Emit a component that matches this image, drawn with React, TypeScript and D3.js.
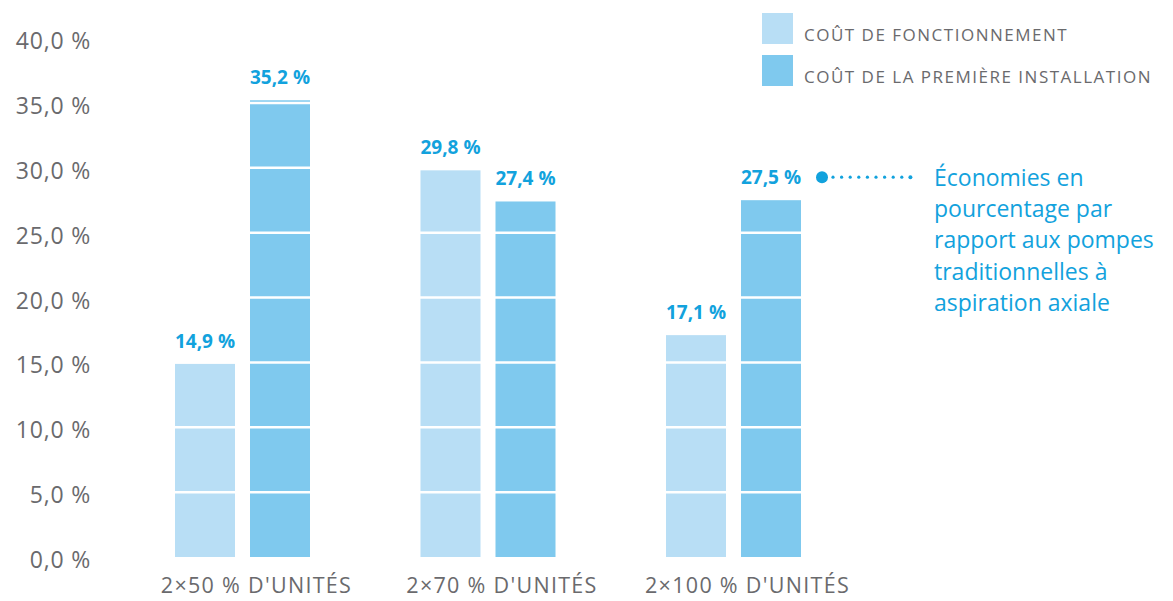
import React from "react";
import * as d3 from "d3";

const categories = ["2×50 % D'UNITÉS", "2×70 % D'UNITÉS", "2×100 % D'UNITÉS"];
const seriesNames = ["COÛT DE FONCTIONNEMENT", "COÛT DE LA PREMIÈRE INSTALLATION"];
const fonctionnement = [14.9, 29.8, 17.1];
const installation = [35.2, 27.4, 27.5];
const yTicks = [0, 5, 10, 15, 20, 25, 30, 35, 40];
const annotationLines = [
  "Économies en",
  "pourcentage par",
  "rapport aux pompes",
  "traditionnelles à",
  "aspiration axiale",
];

const W = 1173;
const H = 601;
const colors = ["#b8def5", "#7fc9ee"];
const labelColor = "#12a2dd";
const gray = "#6a6a6d";
const FONT = "'Open Sans', sans-serif";

const fmt = (v: number) => v.toFixed(1).replace(".", ",") + " %";

export default function App() {
  const y = d3.scaleLinear().domain([0, 40]).range([557, 38]);
  const x0 = d3.scalePoint<string>().domain(categories).range([242.5, 733.5]);
  const x1 = d3.scaleBand<string>().domain(seriesNames).range([-67.5, 67.5]).paddingInner(0.2);
  const series = [fonctionnement, installation];
  const bw = x1.bandwidth();

  const annIdx = 2;
  const annX = (x0(categories[annIdx]) as number) + (x1(seriesNames[1]) as number) + bw;
  const annY = y(installation[annIdx]) - 23;
  const dotStart = annX + 21;
  const dotEnd = annX + 118;
  const dots = d3.range(dotStart + 11, dotEnd, 8.6);

  return (
    <svg width={W} height={H} style={{ position: "absolute", left: 0, top: 0, background: "#fff" }}>
      {yTicks.map((t) => (
        <text key={t} x={91} y={y(t) + 3} dy="0.35em" textAnchor="end" fontFamily={FONT} fontSize={23} letterSpacing={0.8} fill={gray}>
          {fmt(t)}
        </text>
      ))}
      {categories.map((c, i) => (
        <g key={c} transform={`translate(${x0(c)},0)`}>
          {seriesNames.map((s, j) => (
            <rect
              key={s}
              x={x1(s)}
              y={y(series[j][i])}
              width={bw}
              height={y(0) - y(series[j][i])}
              fill={colors[j]}
            />
          ))}
        </g>
      ))}
      {yTicks.filter((t) => t > 0).map((t) => (
        <line key={t} x1={150} x2={830} y1={y(t)} y2={y(t)} stroke="#fff" strokeWidth={2.5} />
      ))}
      {categories.map((c, i) => (
        <g key={c} transform={`translate(${x0(c)},0)`}>
          {seriesNames.map((s, j) => (
            <text
              key={s}
              x={(x1(s) as number) + bw / 2}
              y={y(series[j][i]) - 16}
              textAnchor="middle"
              fontFamily={FONT}
              fontWeight={700}
              fontSize={19}
              fill={labelColor}
            >
              {fmt(series[j][i])}
            </text>
          ))}
        </g>
      ))}
      {categories.map((c) => (
        <text key={c} x={(x0(c) as number) + 14} y={593} textAnchor="middle" fontFamily={FONT} fontSize={21.5} letterSpacing={1.3} fill={gray}>
          {c}
        </text>
      ))}
      {seriesNames.map((s, j) => (
        <g key={s} transform={`translate(762,${13 + j * 42})`}>
          <rect width={31} height={31} fill={colors[j]} />
          <text x={42} y={28} fontFamily={FONT} fontSize={17} letterSpacing={1.5} fill={gray}>
            {s}
          </text>
        </g>
      ))}
      <circle cx={annX + 21} cy={annY} r={6} fill={labelColor} />
      {dots.map((d, k) => (
        <circle key={k} cx={d} cy={annY} r={k === dots.length - 1 ? 2 : 1.6} fill={labelColor} />
      ))}
      {annotationLines.map((l, k) => (
        <text key={k} x={934} y={186 + k * 31.2} fontFamily={FONT} fontSize={23} fill={labelColor}>
          {l}
        </text>
      ))}
    </svg>
  );
}
